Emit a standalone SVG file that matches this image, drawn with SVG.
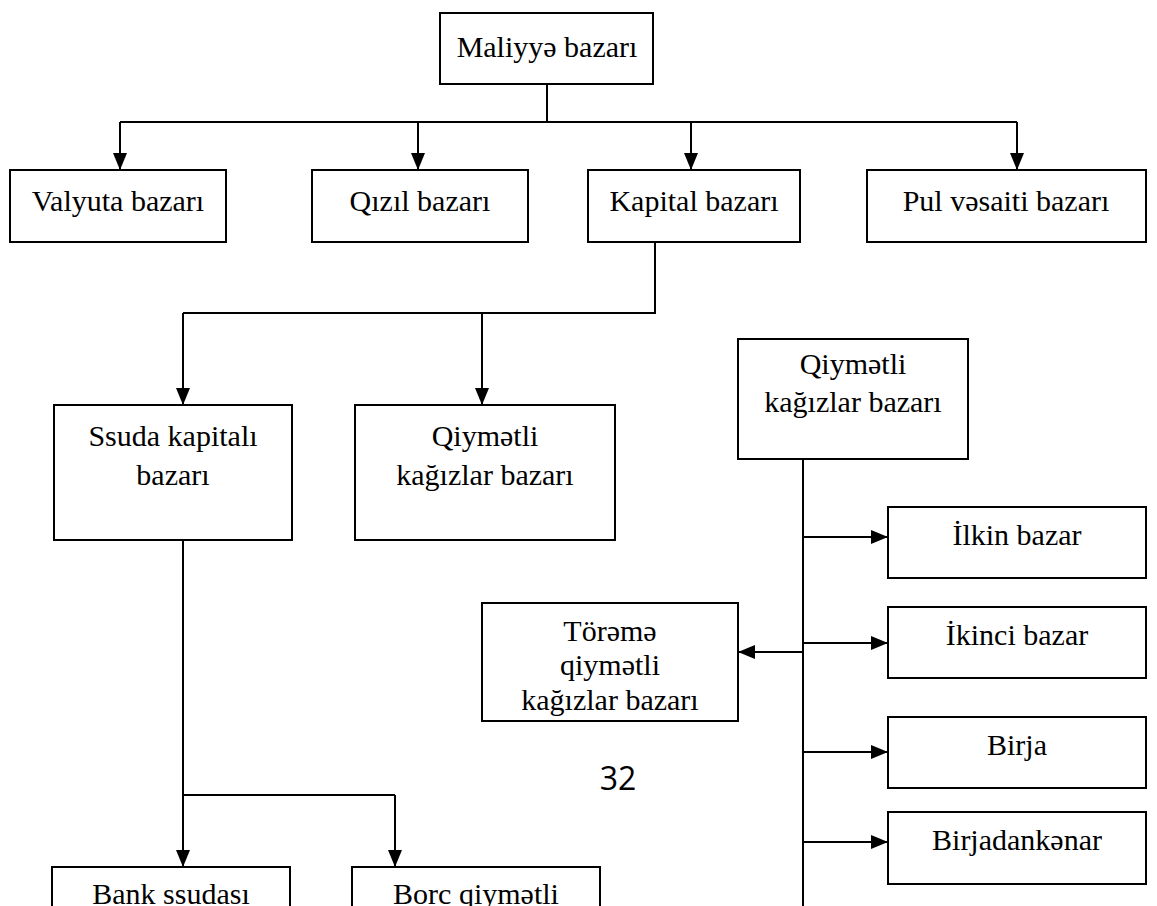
<svg xmlns="http://www.w3.org/2000/svg" width="1157" height="906" viewBox="0 0 1157 906">
<defs>
<marker id="ah" viewBox="0 0 17 14" refX="17" refY="7" markerWidth="17" markerHeight="14" markerUnits="userSpaceOnUse" orient="auto">
<path d="M0,0 L17,7 L0,14 Z" fill="#000"/>
</marker>
<style>
.box{fill:#fff;stroke:#000;stroke-width:2}
.t{font-family:"Liberation Serif","Times New Roman",serif;font-size:30px;fill:#000;text-anchor:middle}
.c{fill:none;stroke:#000;stroke-width:2}
.a{fill:none;stroke:#000;stroke-width:2;marker-end:url(#ah)}
</style>
</defs>
<rect width="1157" height="906" fill="#fff"/>
<g id="connectors">
<path class="c" d="M547,84 V122"/>
<path class="c" d="M120,122 H1017"/>
<path class="a" d="M120,122 V170"/>
<path class="a" d="M418,122 V170"/>
<path class="a" d="M691,122 V170"/>
<path class="a" d="M1017,122 V170"/>
<path class="c" d="M655,242 V313 H183"/>
<path class="a" d="M183,313 V405"/>
<path class="a" d="M482,313 V405"/>
<path class="c" d="M803,459 V906"/>
<path class="a" d="M803,537 H888"/>
<path class="a" d="M803,643 H888"/>
<path class="a" d="M803,752 H888"/>
<path class="a" d="M803,842 H888"/>
<path class="a" d="M803,652 H738"/>
<path class="c" d="M183,540 V795 H395"/>
<path class="a" d="M183,795 V867"/>
<path class="a" d="M395,795 V867"/>
</g>
<g id="maliyye"><rect class="box" x="440" y="13" width="213" height="71"/><text class="t" x="547" y="57">Maliyyə bazarı</text></g>
<g id="valyuta"><rect class="box" x="10" y="170" width="216" height="72"/><text class="t" x="118" y="211">Valyuta bazarı</text></g>
<g id="qizil"><rect class="box" x="312" y="170" width="216" height="72"/><text class="t" x="420" y="211">Qızıl bazarı</text></g>
<g id="kapital"><rect class="box" x="588" y="170" width="212" height="72"/><text class="t" x="694" y="211">Kapital bazarı</text></g>
<g id="pul"><rect class="box" x="867" y="170" width="279" height="72"/><text class="t" x="1006" y="211">Pul vəsaiti bazarı</text></g>
<g id="ssuda"><rect class="box" x="54" y="405" width="238" height="135"/><text class="t" x="173" y="446">Ssuda kapitalı</text><text class="t" x="173" y="485">bazarı</text></g>
<g id="qiymetli1"><rect class="box" x="355" y="405" width="260" height="135"/><text class="t" x="485" y="446">Qiymətli</text><text class="t" x="485" y="485">kağızlar bazarı</text></g>
<g id="qiymetli2"><rect class="box" x="738" y="339" width="230" height="120"/><text class="t" x="853" y="374">Qiymətli</text><text class="t" x="853" y="412">kağızlar bazarı</text></g>
<g id="ilkin"><rect class="box" x="888" y="507" width="258" height="71"/><text class="t" x="1017" y="545">İlkin bazar</text></g>
<g id="ikinci"><rect class="box" x="888" y="607" width="258" height="71"/><text class="t" x="1017" y="645">İkinci bazar</text></g>
<g id="birja"><rect class="box" x="888" y="717" width="258" height="71"/><text class="t" x="1017" y="755">Birja</text></g>
<g id="birjadankenar"><rect class="box" x="888" y="812" width="258" height="72"/><text class="t" x="1017" y="850">Birjadankənar</text></g>
<g id="toreme"><rect class="box" x="482" y="603" width="256" height="118"/><text class="t" x="610" y="641">Törəmə</text><text class="t" x="610" y="675">qiymətli</text><text class="t" x="610" y="710">kağızlar bazarı</text></g>
<g id="bank"><rect class="box" x="52" y="867" width="238" height="50"/><text class="t" x="171" y="904">Bank ssudası</text></g>
<g id="borc"><rect class="box" x="352" y="867" width="248" height="50"/><text class="t" x="476" y="904">Borc qiymətli</text></g>
<text x="618" y="790" font-family="'Open Sans','Liberation Sans',sans-serif" font-size="32" text-anchor="middle" fill="#000">32</text>
</svg>
